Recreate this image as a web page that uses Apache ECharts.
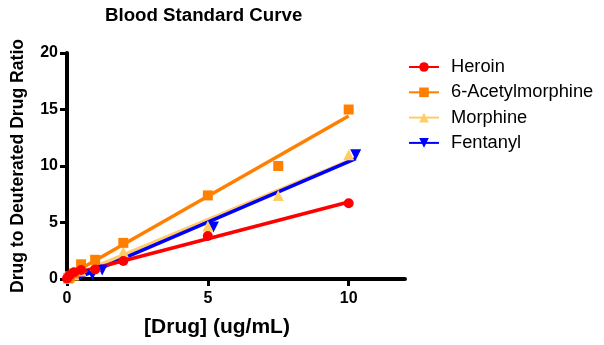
<!DOCTYPE html>
<html>
<head>
<meta charset="utf-8">
<script src="https://cdn.jsdelivr.net/npm/echarts@6/dist/echarts.min.js"></script>
<style>
  html, body { margin: 0; padding: 0; background: #fff; }
  #chart { width: 604px; height: 345px; }
</style>
</head>
<body>
<div id="chart"></div>
<script>
// Concentrations (ug/mL) and measured drug / deuterated-drug area ratios
const heroinX   = [0, 0.1, 0.25, 0.5, 1, 2, 5, 10];
const heroinY   = [0.05, 0.35, 0.6, 0.8, 0.85, 1.6, 3.8, 6.7];
const acetylX   = [0.05, 0.1, 0.25, 0.5, 1, 2, 5, 7.5, 10];
const acetylY   = [0.1, 0.25, 0.5, 1.3, 1.7, 3.2, 7.4, 10.0, 15.0];
const morphineX = [0.05, 0.1, 0.25, 0.5, 1, 2, 5, 7.5, 10];
const morphineY = [0.05, 0.15, 0.35, 0.7, 1.2, 2.4, 4.7, 7.4, 11.0];
const fentanylX = [0.1, 0.25, 0.5, 0.9, 1.25, 5.2, 10.25];
const fentanylY = [0.05, 0.2, 0.45, 0.4, 0.8, 4.6, 11.0];

const xTicks = [0, 5, 10];

const FONT = 'Liberation Sans, Arial, Helvetica, sans-serif';

// Least-squares straight line through one analyte's points,
// evaluated at the lowest and highest concentration.
function fitLine(xs, ys) {
  const n = xs.length;
  let sx = 0, sy = 0, sxx = 0, sxy = 0;
  for (let i = 0; i < n; i++) {
    sx += xs[i]; sy += ys[i];
    sxx += xs[i] * xs[i]; sxy += xs[i] * ys[i];
  }
  const slope = (n * sxy - sx * sy) / (n * sxx - sx * sx);
  const icpt = (sy - slope * sx) / n;
  const lo = Math.min.apply(null, xs), hi = Math.max.apply(null, xs);
  return [[lo, icpt + slope * lo], [hi, icpt + slope * hi]];
}

// lineZ: stacking of the fitted lines (the blue fit sits over the pale one)
const analytes = [
  { name: 'Heroin',           xs: heroinX,   ys: heroinY,   color: '#ff0000', symbol: 'circle',   rotate: 0,   size: 10, lineZ: 18 },
  { name: '6-Acetylmorphine', xs: acetylX,   ys: acetylY,   color: '#ff8000', symbol: 'rect',     rotate: 0,   size: 10, lineZ: 16 },
  { name: 'Morphine',         xs: morphineX, ys: morphineY, color: '#ffcc66', symbol: 'triangle', rotate: 0,   size: 11, lineZ: 12 },
  { name: 'Fentanyl',         xs: fentanylX, ys: fentanylY, color: '#0000ff', symbol: 'triangle', rotate: 180, size: 11, lineZ: 14 }
];

const series = [];
analytes.forEach(function (a, i) {
  series.push({
    name: a.name,
    type: 'line',
    data: fitLine(a.xs, a.ys),
    symbol: a.symbol,
    symbolRotate: a.rotate,
    showSymbol: false,
    color: a.color,
    lineStyle: { color: a.color, width: 3.5 },
    z: a.lineZ,
    silent: true
  });
  series.push({
    name: a.name,
    type: 'scatter',
    data: a.xs.map(function (x, k) { return [x, a.ys[k]]; }),
    symbol: a.symbol,
    symbolRotate: a.rotate,
    symbolSize: a.size,
    itemStyle: { color: a.color, opacity: 1 },
    z: 20 + (analytes.length - i)
  });
});

const chart = echarts.init(document.getElementById('chart'), null, { renderer: 'canvas' });
chart.setOption({
  animation: false,
  backgroundColor: '#ffffff',
  title: {
    text: 'Blood Standard Curve',
    left: 105,
    top: 6,
    padding: 0,
    textStyle: { fontFamily: FONT, fontWeight: 'bold', fontSize: 18.7, color: '#000' }
  },
  legend: {
    orient: 'vertical',
    left: 408,
    top: 58,
    padding: 0,
    itemWidth: 30,
    itemHeight: 12,
    itemGap: 7.3,
    data: analytes.map(function (a) { return a.name; }),
    textStyle: { fontFamily: FONT, fontSize: 18.3, color: '#000', padding: [0, 0, 0, 7] }
  },
  grid: { left: 67, right: 199, top: 53, bottom: 66, containLabel: false },
  xAxis: {
    type: 'value',
    min: 0,
    max: 12,
    interval: 5,
    name: '[Drug] (ug/mL)',
    nameLocation: 'middle',
    nameGap: 38,
    nameTextStyle: { fontFamily: FONT, fontWeight: 'bold', fontSize: 21, color: '#000', padding: [0, 38, 0, 0] },
    axisLine: { onZero: false, lineStyle: { color: '#000', width: 4 } },
    axisTick: { customValues: xTicks, length: 7, lineStyle: { color: '#000', width: 3 } },
    axisLabel: { customValues: xTicks, margin: 12, fontFamily: FONT, fontWeight: 'bold', fontSize: 16, color: '#000' },
    splitLine: { show: false }
  },
  yAxis: {
    type: 'value',
    min: 0,
    max: 20,
    interval: 5,
    name: 'Drug to Deuterated Drug Ratio',
    nameLocation: 'middle',
    nameGap: 40,
    nameTextStyle: { fontFamily: FONT, fontWeight: 'bold', fontSize: 17.6, color: '#000' },
    axisLine: { show: true, onZero: false, lineStyle: { color: '#000', width: 4 } },
    axisTick: { show: true, length: 7, lineStyle: { color: '#000', width: 3 } },
    axisLabel: { margin: 9, fontFamily: FONT, fontWeight: 'bold', fontSize: 16, color: '#000' },
    splitLine: { show: false }
  },
  series: series
});
</script>
</body>
</html>
